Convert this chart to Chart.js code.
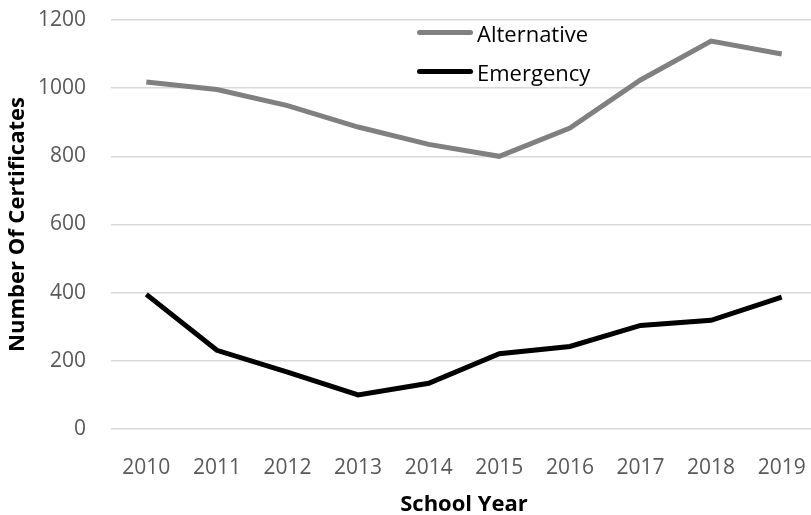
<!DOCTYPE html>
<html>
<head>
<meta charset="utf-8">
<script src="https://cdn.jsdelivr.net/npm/chart.js@4/dist/chart.umd.min.js"></script>
<style>
    body { margin: 0; overflow: hidden; background: #fff; }
    #wrap { position: relative; width: 817px; height: 515px; }
    #legend { position: absolute; left: 417px; top: 13px; font-family: "Open Sans", sans-serif; font-size: 22px; color: #000; }
    .item { display: flex; align-items: center; height: 39px; }
    .swatch { width: 56px; height: 5px; border-radius: 3px; margin-right: 4px; }
</style>
</head>
<body>
<div id="wrap">
    <canvas id="chart" width="817" height="515"></canvas>
    <div id="legend"></div>
</div>
<script>
const years = ['2010', '2011', '2012', '2013', '2014', '2015', '2016', '2017', '2018', '2019'];
const alternative = [1018, 996, 949, 886, 835, 800, 883, 1024, 1138, 1100];
const emergency = [395, 231, 167, 100, 134, 221, 242, 304, 319, 387];
const yTicks = [0, 200, 400, 600, 800, 1000, 1200];

const tickFont = { family: 'Open Sans', size: 21 };
const titleFont = { family: 'Open Sans', size: 22, weight: 'bold' };

const chart = new Chart(document.getElementById('chart'), {
    type: 'line',
    data: {
        labels: years,
        datasets: [
            { label: 'Alternative', data: alternative, borderColor: '#808080', borderWidth: 5, pointRadius: 0, tension: 0 },
            { label: 'Emergency', data: emergency, borderColor: '#000000', borderWidth: 5, pointRadius: 0, tension: 0 }
        ]
    },
    options: {
        responsive: false,
        animation: false,
        layout: { padding: { top: 20, right: 0, left: 0, bottom: 0 } },
        plugins: { legend: { display: false }, tooltip: { enabled: false } },
        scales: {
            x: {
                offset: true,
                grid: { display: false },
                border: { display: false },
                ticks: { font: tickFont, color: '#595959', padding: 18, maxRotation: 0 },
                title: { display: true, text: 'School Year', font: titleFont, color: '#000', padding: { top: 0, bottom: -3 } },
                afterFit: s => { s.height = 86; s.paddingLeft = 0; s.paddingRight = 0; }
            },
            y: {
                min: 0,
                max: 1200,
                afterBuildTicks: s => { s.ticks = yTicks.map(v => ({ value: v })); },
                grid: { color: '#d9d9d9', lineWidth: 1.5, drawTicks: false },
                border: { display: false },
                ticks: { font: tickFont, color: '#595959', padding: 25, callback: v => String(v) },
                title: { display: true, text: 'Number Of Certificates', font: titleFont, color: '#000', padding: { top: 5, bottom: 0 } },
                afterFit: s => { s.width = 111; s.paddingTop = 0; s.paddingBottom = 0; }
            }
        }
    }
});

document.getElementById('legend').innerHTML = chart.data.datasets.map(d =>
    `<div class="item"><span class="swatch" style="background:${d.borderColor}"></span>${d.label}</div>`
).join('');
</script>
</body>
</html>
